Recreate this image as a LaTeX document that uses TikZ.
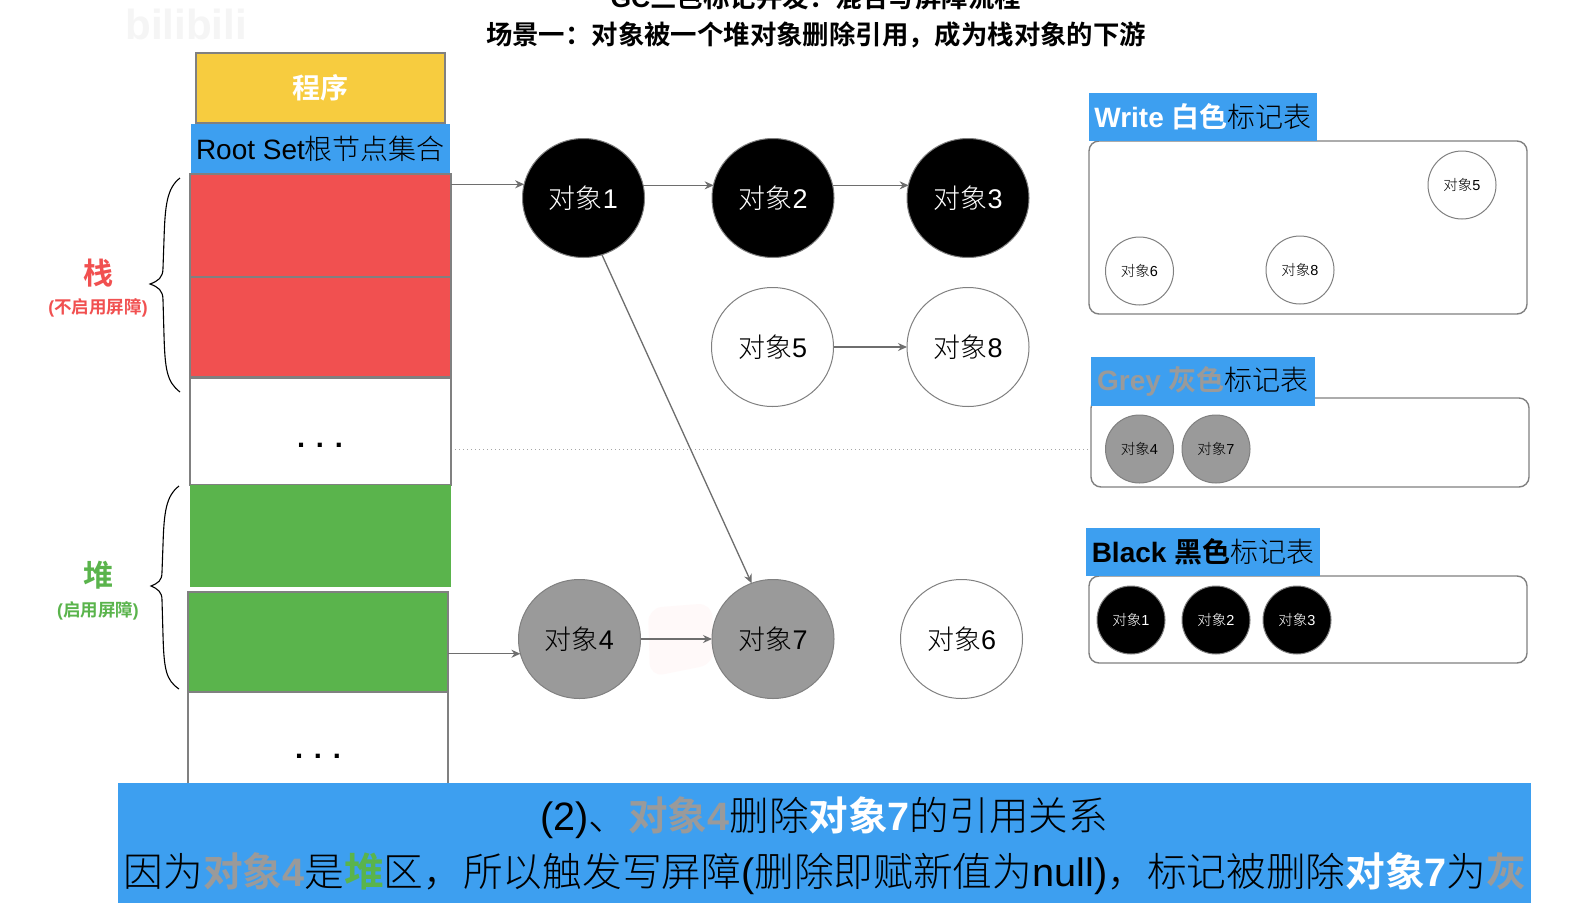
\documentclass[tikz,border=0pt]{standalone}
\usepackage{fontspec}
\setmainfont{Liberation Sans}
\newfontfamily\cjkfont[UprightFont={* Light},BoldFont={* Bold}]{Noto Sans CJK SC}
\usetikzlibrary{arrows.meta,shapes.geometric}
\newcommand\zh[1]{{\cjkfont #1}}
\newcommand\fsz[1]{\fontsize{#1}{#1}\selectfont}
\definecolor{blueA}{HTML}{3D9FF0}
\definecolor{redA}{HTML}{F15050}
\definecolor{greenA}{HTML}{5AB44C}
\definecolor{yellowA}{HTML}{F7CC3F}
\definecolor{greyA}{HTML}{9A9A9A}
\definecolor{edgeA}{HTML}{808080}
\definecolor{arrowA}{HTML}{6E6E6E}
\definecolor{wmark}{HTML}{F5F5F5}
\definecolor{smudge}{HTML}{FFF9F9}
\tikzset{
  cell/.style={draw=edgeA,line width=2pt,anchor=north west,inner sep=0pt,outer sep=0pt},
  titlebar/.style={fill=blueA,anchor=north west,inner sep=0pt,outer sep=0pt,font=\fsz{28}},
  panel/.style={draw=edgeA,line width=1.4pt,rounded corners=10pt,fill=white,anchor=north west,inner sep=0pt,outer sep=0pt},
  obj/.style={ellipse,draw=edgeA,line width=1pt,minimum width=122pt,minimum height=119pt,inner sep=0pt,outer sep=0pt,font=\fsz{27}},
  objw/.style={obj,fill=white,text=black},
  objk/.style={obj,fill=black,text=white},
  objg/.style={obj,fill=greyA,text=black},
  mini/.style={circle,draw=edgeA,line width=1pt,minimum size=68pt,inner sep=0pt,outer sep=0pt,font=\fsz{14.5}},
  miniw/.style={mini,fill=white,text=black},
  minik/.style={mini,fill=black,text=white},
  minig/.style={mini,fill=greyA,text=black},
  link/.style={draw=arrowA,line width=1.3pt,-{Stealth[length=9pt,width=8pt]}},
  bracepath/.style={draw=black,line width=1.1pt},
  txt/.style={inner sep=0pt,outer sep=0pt}
}
\begin{document}
\begin{tikzpicture}[x=1pt,y=-1pt]
\useasboundingbox (0,0) rectangle (1585,905);
\clip (0,0) rectangle (1585,905);
\fill[white] (0,0) rectangle (1585,905);
% watermark and smudge
\node[txt,text=wmark,font=\fsz{42}\bfseries] (wm) at (186,24) {bilibili};
\fill[smudge,rounded corners=14pt] (648,608) -- (712,603) -- (714,664) -- (650,677) -- cycle;
% titles
\node[txt,font=\fsz{26.5}\bfseries] (t1) at (816,-3) {GC\zh{三色标记并发：混合写屏障流程}};
\node[txt,font=\fsz{26.4}\bfseries] (t2) at (816,35) {\zh{场景一：对象被一个堆对象删除引用，成为栈对象的下游}};
% stack
\node[cell,line width=1.5pt,fill=yellowA,minimum width=249pt,minimum height=70pt,text=white,font=\fsz{28}\bfseries] (prog) at (196,53) {\zh{程序}};
\node[txt,anchor=north west,fill=blueA,minimum width=259pt,minimum height=49pt,font=\fsz{28}] (root) at (191,124) {Root Set\zh{根节点集合}};
\node[cell,fill=redA,minimum width=261pt,minimum height=103pt] (red1) at (190,174) {};
\node[cell,fill=redA,minimum width=261pt,minimum height=100pt] (red2) at (190,277) {};
\node[cell,line width=1.5pt,fill=white,minimum width=261pt,minimum height=107pt] (white1) at (190,378) {};
\node[txt,font=\fsz{29}\bfseries] (dots1) at (320,445) {. . .};
\node[cell,line width=1pt,fill=greenA,minimum width=260pt,minimum height=101pt,draw=greenA] (green1) at (190,485) {};
\node[cell,fill=greenA,minimum width=260pt,minimum height=100pt] (green2) at (188,592) {};
\node[cell,line width=1.5pt,fill=white,minimum width=260pt,minimum height=110pt] (white2) at (188,692) {};
\node[txt,font=\fsz{29}\bfseries] (dots2) at (318,756) {. . .};
% braces
\draw[bracepath] (180,178) .. controls (167,188) and (165,205) .. (164,240) -- (163,268) .. controls (163,278) and (158,281) .. (150,284) .. controls (158,287) and (163,290) .. (163,300) -- (164,335) .. controls (165,370) and (167,382) .. (180,392);
\draw[bracepath] (179,486) .. controls (166,496) and (164,512) .. (163,545) -- (162,572) .. controls (162,581) and (158,583) .. (151,586) .. controls (158,589) and (162,592) .. (162,600) -- (163,635) .. controls (164,670) and (166,680) .. (179,689);
\node[txt,text=redA,font=\fsz{30}\bfseries] (stk) at (98,273) {\zh{栈}};
\node[txt,text=redA,font=\fsz{17.5}\bfseries] (stks) at (98,308) {(\zh{不启用屏障})};
\node[txt,text=greenA,font=\fsz{30}\bfseries] (hp) at (98,575) {\zh{堆}};
\node[txt,text=greenA,font=\fsz{17.5}\bfseries] (hps) at (98,611) {(\zh{启用屏障})};
% objects
\node[objk] (o1) at (583.5,198) {\zh{对象}1};
\node[objk] (o2) at (773,198) {\zh{对象}2};
\node[objk] (o3) at (968,198) {\zh{对象}3};
\node[objw] (o5) at (772.5,347) {\zh{对象}5};
\node[objw] (o8) at (968,347) {\zh{对象}8};
\node[objg] (o4) at (579.5,639) {\zh{对象}4};
\node[objg] (o7) at (773,639) {\zh{对象}7};
\node[objw] (o6) at (961.5,639) {\zh{对象}6};
% tables
\node[panel,minimum width=438pt,minimum height=173pt] (pw) at (1089,141) {};
\node[titlebar,minimum width=228pt,minimum height=48pt] (tw) at (1089,93) {\raisebox{-2pt}{\textcolor{white}{\bfseries Write \zh{白色}}\zh{标记表}}};
\node[miniw] (w5) at (1462,185) {\zh{对象}5};
\node[miniw] (w6) at (1139.5,271) {\zh{对象}6};
\node[miniw] (w8) at (1300,270) {\zh{对象}8};
\node[panel,minimum width=438pt,minimum height=89pt] (pg) at (1091,398) {};
\node[titlebar,minimum width=224pt,minimum height=49pt] (tg) at (1091,357) {\raisebox{-3pt}{\textcolor{greyA}{\bfseries Grey \zh{灰色}}\zh{标记表}}};
\node[minig] (g4) at (1139.5,449) {\zh{对象}4};
\node[minig] (g7) at (1216,449) {\zh{对象}7};
\node[panel,minimum width=438pt,minimum height=87pt] (pb) at (1089,576) {};
\node[titlebar,minimum width=234pt,minimum height=48pt] (tb) at (1086,528) {\raisebox{-2pt}{{\bfseries Black \zh{黑色}}\zh{标记表}}};
\node[minik] (b1) at (1131,620) {\zh{对象}1};
\node[minik] (b2) at (1216,620) {\zh{对象}2};
\node[minik] (b3) at (1297,620) {\zh{对象}3};
% connectors
\draw[link] (o1.167 -| red1.east) -- (o1.167);
\draw[link] (o1.12.4) -- (o1.12.4 -| o2.167.6);
\draw[link] (o2.12.4) -- (o2.12.4 -| o3.167.6);
\draw[link] (o5) -- (o8);
\draw[link] (o4) -- (o7);
\draw[link] (o4.194 -| green2.east) -- (o4.194);
\draw[link] (o1.-72) -- (o7.111);
\draw[draw=edgeA!70,line width=1pt,dash pattern=on 1pt off 3pt] ([xshift=4pt,yshift=36pt]white1.south east) -- ([yshift=-51pt]pg.north west);
% caption
\node[txt,fill=blueA,anchor=north west,minimum width=1413pt,minimum height=120pt] (cap) at (118,783) {};
\node[txt,font=\fsz{39.6}] (c1) at (824,818) {(2)\zh{、}\textcolor{greyA}{\bfseries\zh{对象}4}\zh{删除}\textcolor{white}{\bfseries\zh{对象}7}\zh{的引用关系}};
\node[txt,font=\fsz{39.7}] (c2) at (825,874) {\zh{因为}\textcolor{greyA}{\bfseries\zh{对象}4}\zh{是}\textcolor{greenA}{\bfseries\zh{堆}}\zh{区，所以触发写屏障}(\zh{删除即赋新值为}null)\zh{，标记被删除}\textcolor{white}{\bfseries\zh{对象}7}\zh{为}\textcolor{greyA}{\bfseries\zh{灰}}};
\end{tikzpicture}
\end{document}
